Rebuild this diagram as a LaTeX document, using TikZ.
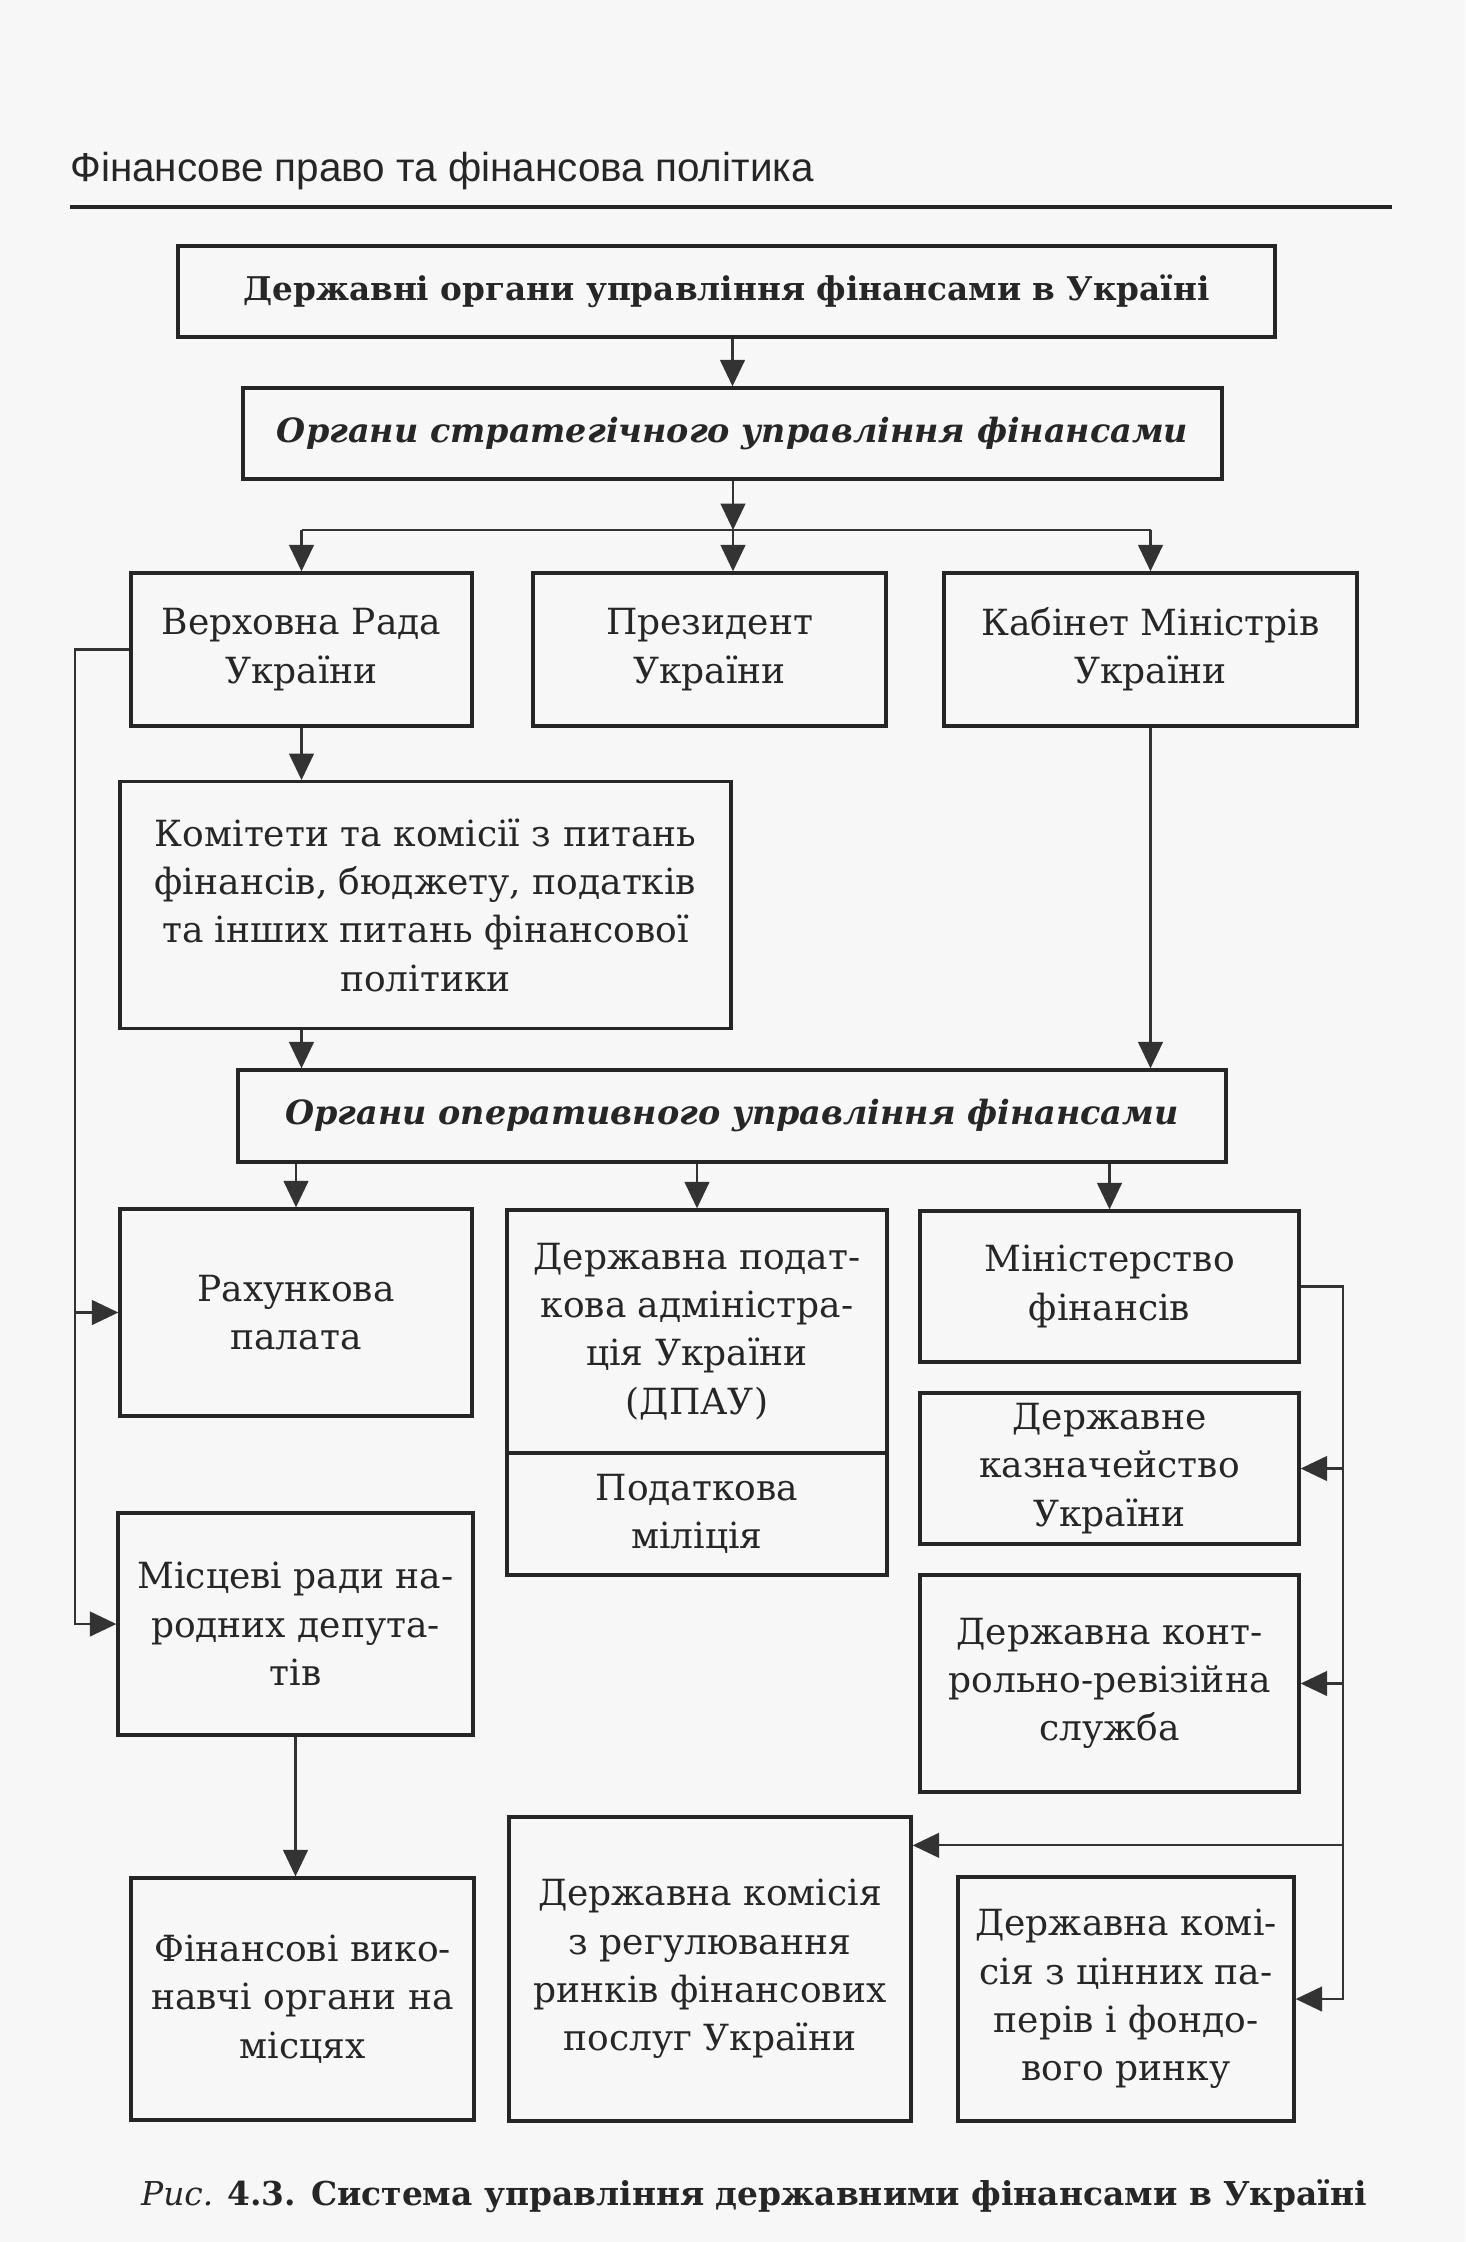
\documentclass[tikz,border=0pt]{standalone}
\usepackage{fontspec}
\setmainfont{DejaVu Serif}
\newfontfamily\headfont{Liberation Sans}
\usetikzlibrary{arrows.meta}

\begin{document}
\begin{tikzpicture}[
    >={Triangle[length=15pt, width=14pt]},
    box/.style={
        draw=black!85, rectangle, line width=1.9pt, align=center,
        inner sep=0pt, text=black!85,
        font=\fontsize{20.5}{27.5}\selectfont
    },
    conn/.style={draw=black!80, line width=1.3pt}
]

% page
\useasboundingbox[fill=black!3] (0,0) rectangle (29.3,-44.84);

% Running head
\node[anchor=base west, inner sep=0pt, text=black!85,
      font=\headfont\fontsize{23}{27}\selectfont] (head) at (1.4,-3.64)
    {Фінансове право та фінансова політика};
\draw[line width=2pt, black!85] (1.4,-4.14) -- (27.84,-4.14);

% -------------------------
% Top levels
% -------------------------
\node[box, minimum width=21.94cm, minimum height=1.82cm] (top) at (14.53,-5.83)
    {\fontsize{18.6}{24}\selectfont\textbf{Державні органи управління фінансами в Україні}};

\node[box, minimum width=19.58cm, minimum height=1.82cm] (strat) at (14.65,-8.67)
    {\fontsize{19}{24}\selectfont\textbf{\textit{Органи стратегічного управління фінансами}}};

% Strategic bodies
\node[box, minimum width=6.82cm, minimum height=3.06cm] (VR) at (6.03,-12.99)
    {Верховна Рада\\України};
\node[box, minimum width=7.06cm, minimum height=3.06cm] (Pres) at (14.19,-12.99)
    {Президент\\України};
\node[box, minimum width=8.26cm, minimum height=3.06cm] (KM) at (23.01,-12.99)
    {Кабінет Міністрів\\України};

\node[box, minimum width=12.22cm, minimum height=4.93cm] (Kom) at (8.51,-18.1)
    {Комітети та комісії з питань\\фінансів, бюджету, податків\\та інших питань фінансової\\політики};

\node[box, minimum width=19.76cm, minimum height=1.84cm] (Oper) at (14.64,-22.32)
    {\fontsize{19}{24}\selectfont\textbf{\textit{Органи оперативного управління фінансами}}};

% -------------------------
% Operative bodies
% -------------------------
\node[box, minimum width=7.04cm, minimum height=4.14cm] (Rah) at (5.92,-26.25)
    {Рахункова\\палата};
\node[box, minimum width=7.6cm, minimum height=4.86cm] (DPAU) at (13.94,-26.63)
    {Державна подат-\\кова адміністра-\\ція України\\(ДПАУ)};
\node[box, minimum width=7.6cm, minimum height=2.44cm] (Milit) at (13.94,-30.28)
    {Податкова\\міліція};
\node[box, minimum width=7.58cm, minimum height=3.02cm] (Minfin) at (22.19,-25.73)
    {Міністерство\\фінансів};
\node[box, minimum width=7.58cm, minimum height=3.02cm] (Kazn) at (22.19,-29.37)
    {Державне\\казначейство\\України};
\node[box, minimum width=7.58cm, minimum height=4.34cm] (KRS) at (22.19,-33.67)
    {Державна конт-\\рольно-ревізійна\\служба};
\node[box, minimum width=7.1cm, minimum height=4.44cm] (Mists) at (5.91,-32.48)
    {Місцеві ради на-\\родних депута-\\тів};

% Bottom row
\node[box, minimum width=6.86cm, minimum height=4.84cm] (Finvyk) at (6.05,-39.98)
    {Фінансові вико-\\навчі органи на\\місцях};
\node[box, minimum width=8.04cm, minimum height=6.08cm] (DKRFP) at (14.2,-39.38)
    {Державна комісія\\з регулювання\\ринків фінансових\\послуг України};
\node[box, minimum width=6.72cm, minimum height=4.88cm] (DKCP) at (22.52,-39.98)
    {Державна комі-\\сія з цінних па-\\перів і фондо-\\вого ринку};

% Caption
\node[anchor=base, inner sep=0pt, text=black!85,
      font=\fontsize{18.7}{22}\selectfont] (caption) at (15.08,-44.1)
    {\textit{Рис.} \textbf{4.3. Система управління державними фінансами в Україні}};

% -------------------------
% Connections
% -------------------------
\coordinate (split) at (14.66,-10.6);
\coordinate (lbus) at (1.5,-13);
\coordinate (rbus) at (26.86,-25.74);
\coordinate (dkrin) at ([yshift=-0.6cm]DKRFP.north east);

\draw[conn, ->] (top.south -| strat.north) -- (strat.north);
\draw[conn, ->] (strat.south -| split) -- (split);
\draw[conn] (VR.north |- split) -- (KM.north |- split);
\draw[conn, ->] (VR.north |- split) -- (VR.north);
\draw[conn, ->] (split) -- (split |- Pres.north);
\draw[conn, ->] (KM.north |- split) -- (KM.north);

\draw[conn, ->] (VR.south) -- (VR.south |- Kom.north);
\draw[conn, ->] (VR.south |- Kom.south) -- (VR.south |- Oper.north);
\draw[conn, ->] (KM.south) -- (KM.south |- Oper.north);

\draw[conn, ->] (Rah.north |- Oper.south) -- (Rah.north);
\draw[conn, ->] (DPAU.north |- Oper.south) -- (DPAU.north);
\draw[conn, ->] (Minfin.north |- Oper.south) -- (Minfin.north);

% left bus
\draw[conn, ->] (VR.west) -- (VR.west -| lbus) -- (lbus |- Mists.west) -- (Mists.west);
\draw[conn, ->] (lbus |- Rah.west) -- (Rah.west);
\draw[conn, ->] (Mists.south) -- (Mists.south |- Finvyk.north);

% right bus
\draw[conn, ->] (Minfin.east) -- (Minfin.east -| rbus) -- (rbus |- DKCP.east) -- (DKCP.east);
\draw[conn, ->] (rbus |- Kazn.east) -- (Kazn.east);
\draw[conn, ->] (rbus |- KRS.east) -- (KRS.east);
\draw[conn, ->] (rbus |- dkrin) -- (dkrin);

\end{tikzpicture}
\end{document}
